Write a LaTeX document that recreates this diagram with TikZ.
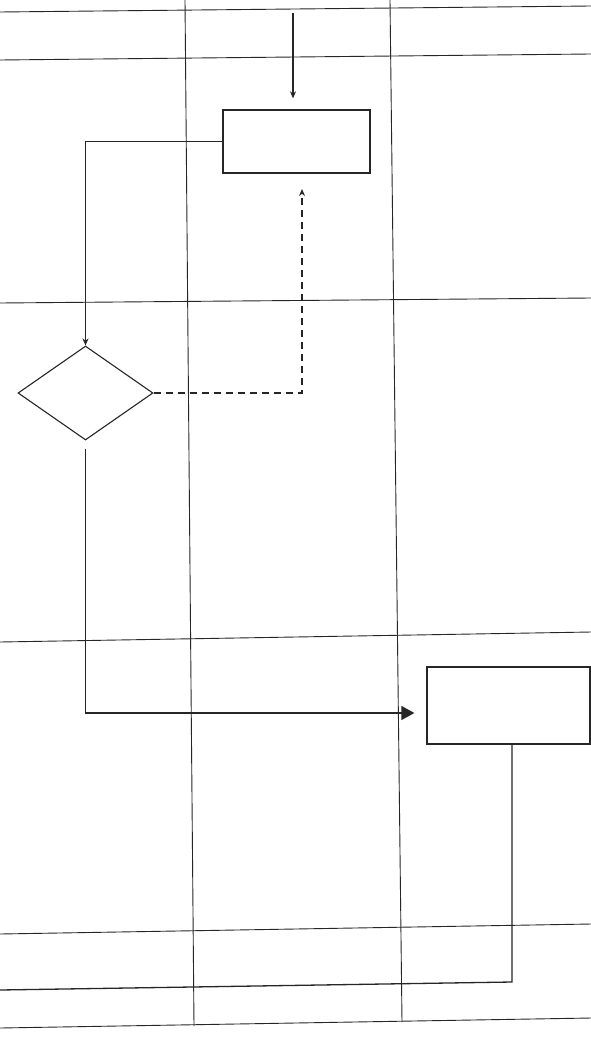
\documentclass[tikz,border=0pt]{standalone}
\usetikzlibrary{arrows.meta,shapes.geometric}
\begin{document}
\begin{tikzpicture}[x=1pt,y=-1pt,
  grid/.style={line width=0.9pt,black!85},
  conn/.style={line width=1.3pt,black!85},
  boxnode/.style={draw=black!85,line width=1.3pt,rectangle,inner sep=0pt},
  dec/.style={draw=black!85,line width=1.1pt,diamond,inner sep=0pt,minimum width=135pt,minimum height=94pt},
  smallarrow/.style={-{Stealth[length=7pt,width=6pt]}},
  bigarrow/.style={-{Triangle[length=13pt,width=14pt]}},
  dashconn/.style={line width=1.3pt,black!85,dash pattern=on 7pt off 5pt}]
\useasboundingbox (0,0) rectangle (591,1062);
\fill[white] (0,0) rectangle (591,1062);
% swimlane grid
\draw[grid] (0,12) -- (591,6);
\draw[grid] (0,60) -- (591,54);
\draw[grid] (0,303) -- (591,298);
\draw[grid] (0,642) -- (591,632);
\draw[grid] (0,934) -- (591,924);
\draw[grid] (0,1028) -- (591,1018);
\draw[grid] (185,0) -- (194,1026);
\draw[grid] (390,0) -- (402,1022);
% nodes
\node[boxnode,minimum width=147pt,minimum height=63pt] (b1) at (296.5,141.5) {};
\node[dec] (d) at (85.5,393) {};
\node[boxnode,minimum width=163pt,minimum height=77pt] (b2) at (508.5,705.5) {};
\coordinate (s) at (293,13);
\coordinate (e) at (0,990);
% connectors
\draw[conn,smallarrow,shorten >=11pt] (s) -- (s |- b1.north);
\draw[conn,smallarrow] (b1.west) -| (d.north);
\draw[dashconn,smallarrow,shorten >=16pt] (d.east) -| (302,173);
\draw[conn,bigarrow,shorten <=8pt,shorten >=12pt] (d.south) -- (85.5,713) -- (b2.west |- 0,713);
\draw[conn] (512,744) -- (512,982) -- (e);
\end{tikzpicture}
\end{document}
